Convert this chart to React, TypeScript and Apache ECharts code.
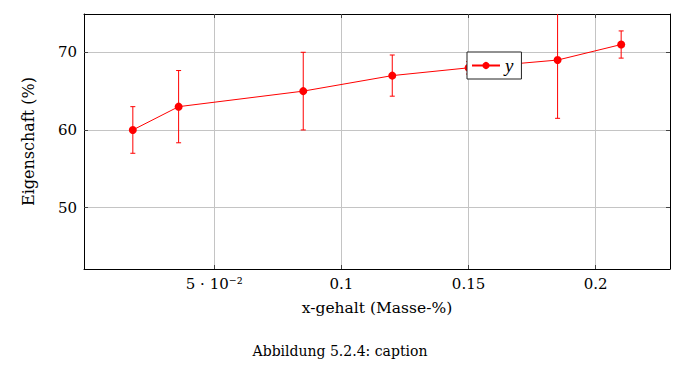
import React, { useEffect, useRef } from "react";
import * as echarts from "echarts";

const xValues = [0.018, 0.036, 0.085, 0.12, 0.15, 0.185, 0.21];
const yValues = [60, 63, 65, 67, 68, 69, 71];
const yErrors = [3, 4.65, 5, 2.65, 0.8, 7.5, 1.75];
const xTicks = [0.05, 0.1, 0.15, 0.2];
const xTickLabels = ["5 · 10⁻²", "0.1", "0.15", "0.2"];
const yTicks = [50, 60, 70];
const seriesName = "y";
const xTitle = "x-gehalt (Masse-%)";
const yTitle = "Eigenschaft (%)";
const caption = "Abbildung 5.2.4: caption";

const X_MIN = -0.0012;
const X_MAX = 0.2292;
const Y_MIN = 42.1;
const Y_MAX = 74.93;

const FONT = "DejaVu Serif";
const ITALIC_FONT = "Liberation Serif, DejaVu Serif, serif";

export default function App() {
  const ref = useRef<HTMLDivElement>(null);
  useEffect(() => {
    if (!ref.current) return;
    const chart = echarts.init(ref.current, undefined, { renderer: "svg" });
    const lineData = xValues.map((x, i) => [x, yValues[i]]);
    const errData = xValues.map((x, i) => [x, yValues[i] - yErrors[i], yValues[i] + yErrors[i]]);
    const red = "#ff0000";
    const xLabel = (v: number) => {
      const i = xTicks.findIndex((t) => Math.abs(t - v) < 1e-9);
      return i >= 0 ? xTickLabels[i] : "";
    };
    const frameAxis = { show: true, onZero: false, lineStyle: { color: "#000", width: 1 } };
    const tick = (vals: number[]) => ({
      show: true,
      inside: true,
      length: 4,
      customValues: vals,
      lineStyle: { color: "#444" },
    });
    chart.setOption({
      animation: false,
      textStyle: { fontFamily: FONT },
      grid: { left: 84, top: 14, right: 18, bottom: 103, containLabel: false },
      legend: {
        data: [seriesName],
        left: 467,
        top: 52,
        orient: "horizontal",
        backgroundColor: "#ffffff",
        borderColor: "#222222",
        borderWidth: 1,
        borderRadius: 0,
        padding: [4, 8, 4, 4],
        itemWidth: 28,
        itemHeight: 9,
        itemGap: 0,
        formatter: (name: string) => `{i|${name}}`,
        textStyle: {
          color: "#000",
          rich: {
            i: { fontFamily: ITALIC_FONT, fontStyle: "italic", fontSize: 19, color: "#000" },
          },
        },
        z: 10,
      },
      xAxis: [
        {
          type: "value",
          min: X_MIN,
          max: X_MAX,
          position: "bottom",
          name: xTitle,
          nameLocation: "middle",
          nameGap: 31,
          nameTextStyle: { fontFamily: FONT, fontSize: 15.5, color: "#000" },
          axisLine: frameAxis,
          axisTick: tick(xTicks),
          axisLabel: {
            customValues: xTicks,
            margin: 7,
            fontFamily: FONT,
            fontSize: 15,
            color: "#000",
            formatter: xLabel,
          },
          splitLine: { show: true, lineStyle: { color: "#c4c4c4", width: 1 } },
        },
        {
          type: "value",
          min: X_MIN,
          max: X_MAX,
          position: "top",
          axisLine: frameAxis,
          axisTick: tick(xTicks),
          axisLabel: { show: false },
          splitLine: { show: false },
        },
      ],
      yAxis: [
        {
          type: "value",
          min: Y_MIN,
          max: Y_MAX,
          position: "left",
          name: yTitle,
          nameLocation: "middle",
          nameGap: 48,
          nameRotate: 90,
          nameTextStyle: { fontFamily: FONT, fontSize: 16, color: "#000" },
          axisLine: frameAxis,
          axisTick: tick(yTicks),
          axisLabel: {
            customValues: yTicks,
            margin: 7,
            fontFamily: FONT,
            fontSize: 15,
            color: "#000",
          },
          splitLine: { show: true, lineStyle: { color: "#c4c4c4", width: 1 } },
        },
        {
          type: "value",
          min: Y_MIN,
          max: Y_MAX,
          position: "right",
          axisLine: frameAxis,
          axisTick: tick(yTicks),
          axisLabel: { show: false },
          splitLine: { show: false },
        },
      ],
      series: [
        {
          name: "errors",
          type: "custom",
          clip: true,
          xAxisIndex: 0,
          yAxisIndex: 0,
          z: 3,
          data: errData,
          renderItem: (params: any, api: any) => {
            const x = api.value(0);
            const lo = api.coord([x, api.value(1)]);
            const hi = api.coord([x, api.value(2)]);
            const cap = 2.5;
            const style = { stroke: red, lineWidth: 1 };
            return {
              type: "group",
              children: [
                { type: "line", shape: { x1: lo[0], y1: lo[1], x2: hi[0], y2: hi[1] }, style },
                { type: "line", shape: { x1: lo[0] - cap, y1: lo[1], x2: lo[0] + cap, y2: lo[1] }, style },
                { type: "line", shape: { x1: hi[0] - cap, y1: hi[1], x2: hi[0] + cap, y2: hi[1] }, style },
              ],
            };
          },
        },
        {
          name: seriesName,
          type: "line",
          xAxisIndex: 0,
          yAxisIndex: 0,
          z: 4,
          data: lineData,
          symbol: "circle",
          symbolSize: 8,
          showSymbol: true,
          lineStyle: { color: red, width: 1 },
          itemStyle: { color: red },
        },
      ],
      graphic: [
        {
          type: "text",
          x: 340,
          y: 351,
          style: {
            text: caption,
            fontFamily: FONT,
            fontSize: 14,
            fill: "#000",
            textAlign: "center",
            textVerticalAlign: "middle",
          },
        },
      ],
    });
    return () => chart.dispose();
  }, []);
  return (
    <div
      ref={ref}
      style={{ position: "fixed", left: 0, top: 0, width: 688, height: 372, background: "#fff" }}
    />
  );
}
